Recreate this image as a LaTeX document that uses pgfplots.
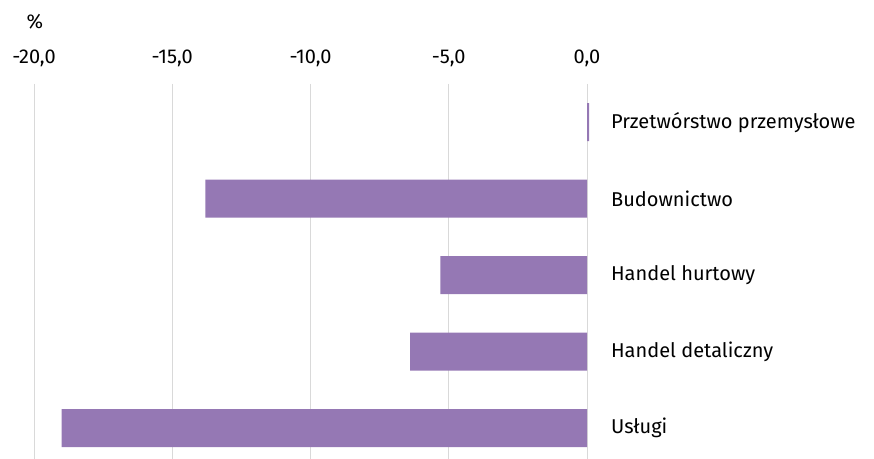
\documentclass[border=0pt]{standalone}
\usepackage{pgfplots}
\pgfplotsset{compat=1.18}
\usepackage{fontspec}
\setmainfont{Fira Sans}
\definecolor{barpurple}{RGB}{149,120,180}
\definecolor{gridgray}{RGB}{217,217,217}
\begin{document}
\fontsize{20bp}{23bp}\selectfont
\begin{tikzpicture}
\begin{axis}[
  name=ax,
  xbar,
  scale only axis,
  width=553bp, height=375bp,
  xmin=-20, xmax=0,
  ymin=-0.5, ymax=4.405,
  y dir=reverse,
  bar width=38bp,
  axis line style={draw=none},
  xtick={-20,-15,-10,-5,0},
  xticklabels={{-20,0},{-15,0},{-10,0},{-5,0},{0,0}},
  xticklabel pos=top,
  xtick style={draw=none},
  xmajorgrids,
  major grid style={gridgray, line width=0.9bp},
  ytick={0,1,2,3,4},
  yticklabels={Przetwórstwo przemysłowe,Budownictwo,Handel hurtowy,Handel detaliczny,Usługi},
  yticklabel pos=right,
  ytick style={draw=none},
  yticklabel style={anchor=west, font=\fontsize{20bp}{23bp}\selectfont},
  xticklabel style={font=\fontsize{20bp}{23bp}\selectfont},
  yticklabel shift=13bp,
  xticklabel shift=10bp,
  clip=false,
]
\addplot[fill=barpurple, draw=none] coordinates {(0.08,0) (-13.8,1) (-5.3,2) (-6.4,3) (-19.0,4)};
\end{axis}
\node[anchor=center, font=\fontsize{20bp}{23bp}\selectfont] at ([xshift=1bp, yshift=62bp]ax.north west) {\%};
\pgfresetboundingbox
\path[use as bounding box] ([xshift=-34bp]ax.south west) rectangle ++(874bp,459bp);
\end{tikzpicture}
\end{document}
